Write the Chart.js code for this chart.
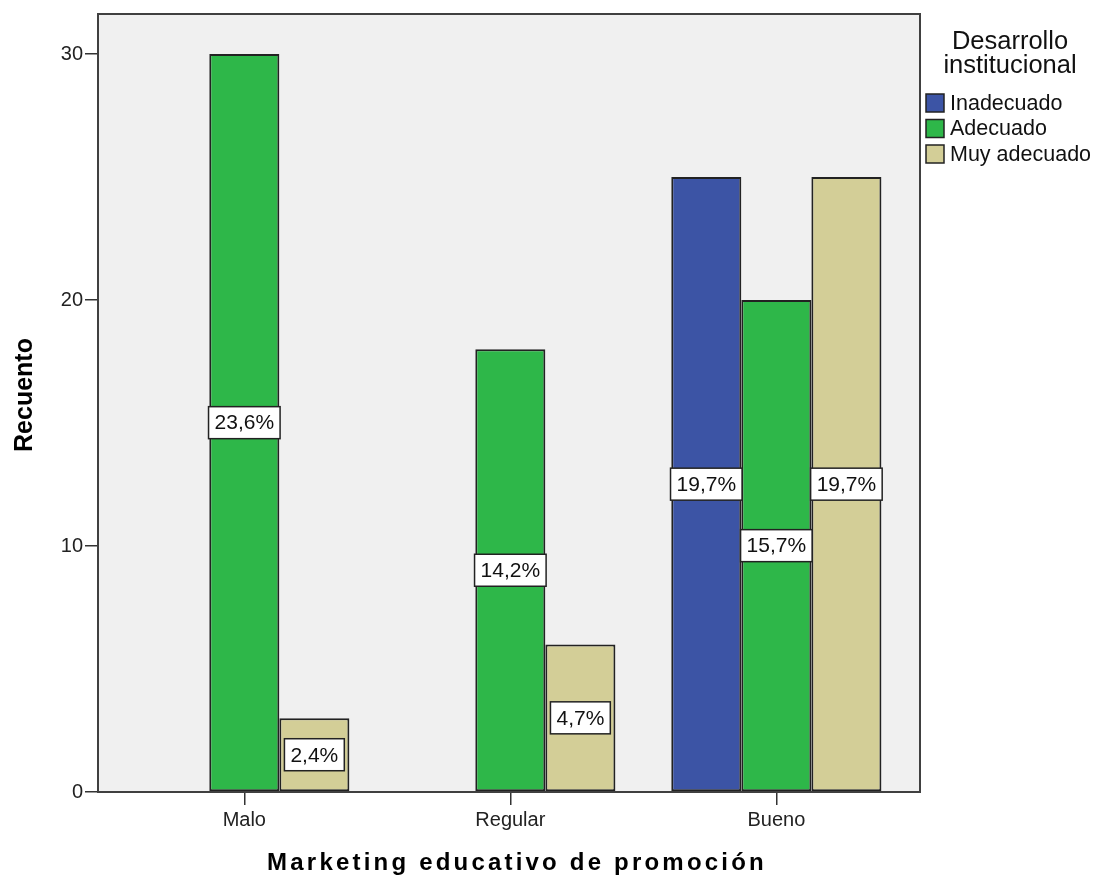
<!DOCTYPE html>
<html>
<head>
<meta charset="utf-8">
<script src="https://cdn.jsdelivr.net/npm/chart.js@4.4.1/dist/chart.umd.min.js"></script>
<style>
  html, body { margin: 0; padding: 0; background: #fff; }
</style>
</head>
<body>
<canvas id="chart" width="1096" height="876"></canvas>
<script>
// counts per category of "Marketing educativo de promoción"
var categories = ['Malo', 'Regular', 'Bueno'];
var seriesNames = ['Inadecuado', 'Adecuado', 'Muy adecuado'];
var inadecuado = [null, null, 25];
var adecuado = [30, 18, 20];
var muyAdecuado = [3, 6, 25];
var yTicks = [0, 10, 20, 30];

var colors = ['#3c54a5', '#2eb749', '#d3ce97'];
var FONT = '"Liberation Sans", Arial, sans-serif';

var allSeries = [inadecuado, adecuado, muyAdecuado];
var total = 0;
allSeries.forEach(function(s) {
  s.forEach(function(v) { if (v != null) total += v; });
});

function pct(v) {
  return (v / total * 100).toFixed(1).replace('.', ',') + '%';
}

var datasets = allSeries.map(function(s, i) {
  return {
    label: seriesNames[i],
    data: s.map(function(v, j) { return { x: j, y: v }; }),
    backgroundColor: colors[i],
    borderColor: '#222',
    borderWidth: 2,
    borderSkipped: false,
    categoryPercentage: 0.79,
    barPercentage: 1
  };
});

// grey plot background and its frame
var plotFrame = {
  id: 'plotFrame',
  beforeDraw: function(chart) {
    var a = chart.chartArea, ctx = chart.ctx;
    ctx.save();
    ctx.fillStyle = '#f0f0f0';
    ctx.fillRect(a.left, a.top, a.right - a.left, a.bottom - a.top);
    ctx.restore();
  },
  afterDraw: function(chart) {
    var a = chart.chartArea, ctx = chart.ctx;
    ctx.save();
    ctx.strokeStyle = '#404040';
    ctx.lineWidth = 2;
    ctx.strokeRect(a.left, a.top, a.right - a.left, a.bottom - a.top);
    ctx.restore();
  }
};

// white percentage boxes in the middle of each bar
var pctLabels = {
  id: 'pctLabels',
  afterDatasetsDraw: function(chart) {
    var ctx = chart.ctx;
    ctx.save();
    ctx.font = '21px ' + FONT;
    ctx.textAlign = 'center';
    ctx.textBaseline = 'middle';
    chart.data.datasets.forEach(function(ds, i) {
      var meta = chart.getDatasetMeta(i);
      meta.data.forEach(function(bar, j) {
        var v = ds.data[j].y;
        if (v == null) return;
        var txt = pct(v);
        var w = ctx.measureText(txt).width + 12, h = 32;
        var cx = bar.x, cy = (bar.y + bar.base) / 2;
        ctx.fillStyle = '#ffffff';
        ctx.fillRect(cx - w / 2, cy - h / 2, w, h);
        ctx.strokeStyle = '#222';
        ctx.lineWidth = 1.5;
        ctx.strokeRect(cx - w / 2, cy - h / 2, w, h);
        ctx.fillStyle = '#111';
        ctx.fillText(txt, cx, cy + 1);
      });
    });
    ctx.restore();
  }
};

// axis titles and the legend on the right
var annotations = {
  id: 'annotations',
  afterDraw: function(chart) {
    var ctx = chart.ctx;
    ctx.save();
    ctx.fillStyle = '#000';
    ctx.textAlign = 'center';
    ctx.textBaseline = 'middle';

    ctx.font = 'bold 25px ' + FONT;
    ctx.save();
    ctx.translate(25, 395);
    ctx.rotate(-Math.PI / 2);
    ctx.fillText('Recuento', 0, 0);
    ctx.restore();

    ctx.font = 'bold 24px ' + FONT;
    ctx.textBaseline = 'alphabetic';
    if (ctx.letterSpacing !== undefined) ctx.letterSpacing = '3.2px';
    ctx.fillText('Marketing educativo de promoción', 517, 870);
    if (ctx.letterSpacing !== undefined) ctx.letterSpacing = '0px';
    ctx.textBaseline = 'middle';

    ctx.fillStyle = '#111';
    ctx.font = '25.5px ' + FONT;
    ctx.fillText('Desarrollo', 1010, 42);
    ctx.fillText('institucional', 1010, 66);

    ctx.textAlign = 'left';
    ctx.font = '21.5px ' + FONT;
    chart.data.datasets.forEach(function(ds, i) {
      var y = 103 + i * 25.5;
      ctx.fillStyle = ds.backgroundColor;
      ctx.fillRect(926, y - 9, 18, 18);
      ctx.strokeStyle = '#222';
      ctx.lineWidth = 1.5;
      ctx.strokeRect(926, y - 9, 18, 18);
      ctx.fillStyle = '#111';
      ctx.fillText(ds.label, 950, y + 1);
    });
    ctx.restore();
  }
};

new Chart(document.getElementById('chart'), {
  type: 'bar',
  data: { datasets: datasets },
  plugins: [plotFrame, pctLabels, annotations],
  options: {
    responsive: false,
    animation: false,
    layout: { padding: { left: 0, right: 176, top: 14, bottom: 0 } },
    plugins: { legend: { display: false }, tooltip: { enabled: false } },
    scales: {
      x: {
        type: 'linear',
        min: -0.55,
        max: 2.54,
        offset: false,
        afterFit: function(s) { s.height = 84; },
        border: { display: false },
        grid: { offset: false, drawOnChartArea: false, drawTicks: true, tickLength: 13, tickColor: '#333', lineWidth: 1.5 },
        afterBuildTicks: function(s) { s.ticks = categories.map(function(c, i) { return { value: i }; }); },
        ticks: {
          padding: 3,
          color: '#222',
          font: { family: FONT, size: 20 },
          maxRotation: 0,
          autoSkip: false,
          callback: function(v) { return categories[v]; }
        }
      },
      y: {
        min: 0,
        max: 31.63,
        afterFit: function(s) { s.width = 98; },
        border: { display: false },
        grid: { drawOnChartArea: false, drawTicks: true, tickLength: 13, tickColor: '#333', lineWidth: 1.5 },
        afterBuildTicks: function(s) { s.ticks = yTicks.map(function(v) { return { value: v }; }); },
        ticks: {
          padding: 2,
          color: '#222',
          font: { family: FONT, size: 20 }
        }
      }
    }
  }
});
</script>
</body>
</html>
